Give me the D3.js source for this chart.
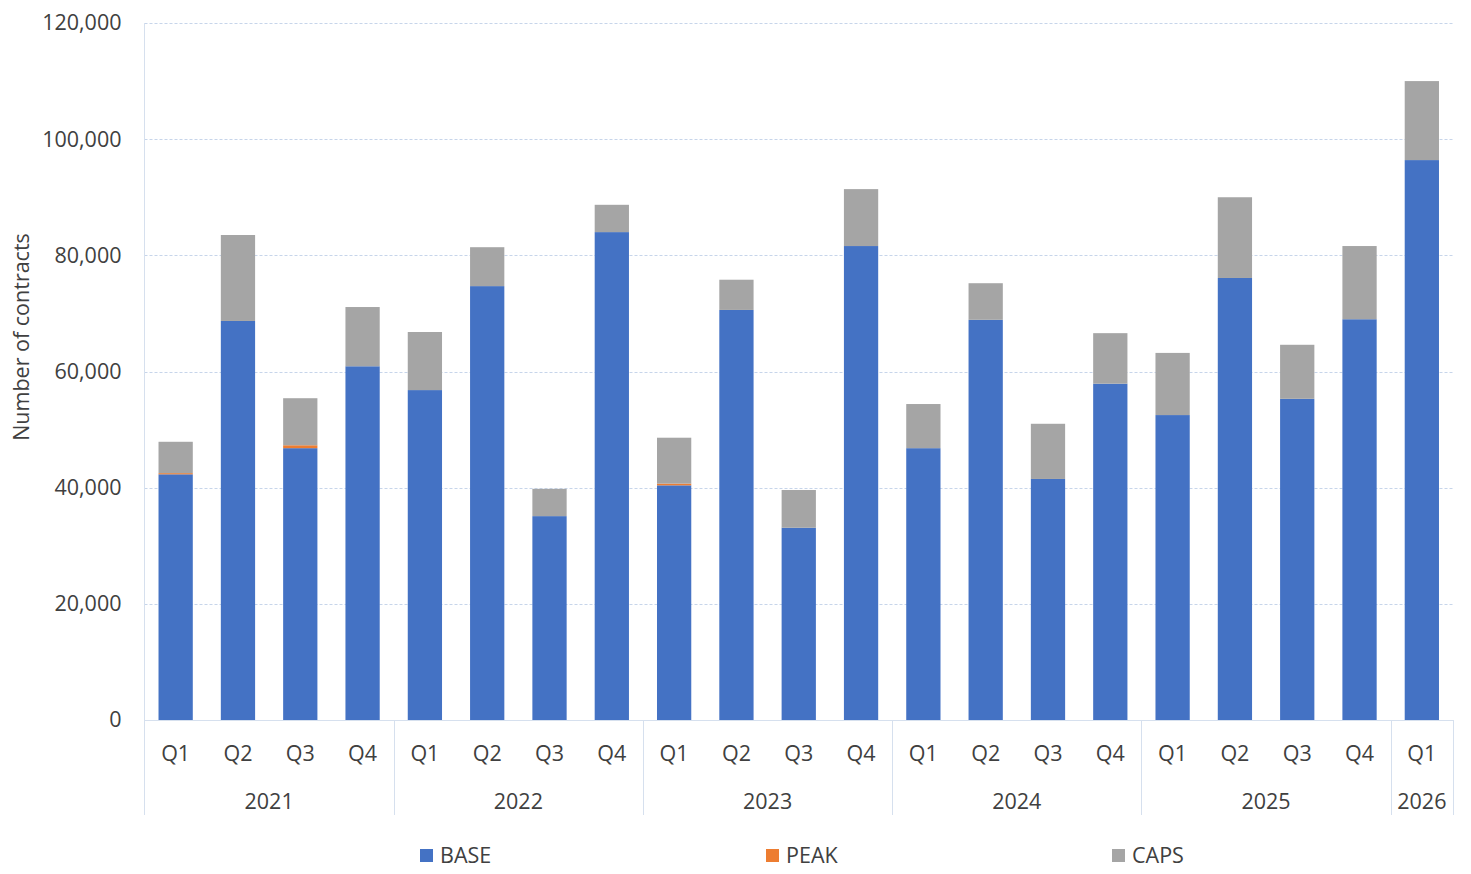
<!DOCTYPE html>
<html>
<head>
<meta charset="utf-8">
<script src="https://cdn.jsdelivr.net/npm/d3@7"></script>
<style>
  body { margin: 0; background: #fff; }
  text { font-family: "Open Sans", "Noto Sans", sans-serif; fill: #404040; }
</style>
</head>
<body>
<svg id="chart"></svg>
<script>
// data
var years = ["2021", "2022", "2023", "2024", "2025", "2026"];
var quarters = ["Q1", "Q2", "Q3", "Q4", "Q1", "Q2", "Q3", "Q4", "Q1", "Q2", "Q3", "Q4",
                "Q1", "Q2", "Q3", "Q4", "Q1", "Q2", "Q3", "Q4", "Q1"];
var quarterYear = [0,0,0,0, 1,1,1,1, 2,2,2,2, 3,3,3,3, 4,4,4,4, 5];
var baseValues = [42300, 68700, 46800, 60900, 56800, 74700, 35100, 84000, 40400, 70600, 33100, 81600,
                  46800, 68900, 41500, 57900, 52500, 76100, 55300, 69000, 96400];
var peakValues = [200, 0, 500, 0, 0, 0, 0, 0, 300, 0, 0, 0,
                  0, 0, 0, 0, 0, 0, 0, 0, 0];
var capsValues = [5400, 14800, 8100, 10200, 10000, 6700, 4700, 4700, 7900, 5200, 6500, 9800,
                  7600, 6300, 9500, 8700, 10700, 13900, 9300, 12600, 13600];
var yTicks = [0, 20000, 40000, 60000, 80000, 100000, 120000];
var seriesNames = ["BASE", "PEAK", "CAPS"];
var seriesColors = ["#4472C4", "#ED7D31", "#A5A5A5"];

var screen = { width: 1471, height: 874 };
var margins = { top: 23, left: 144.5, right: 18, bottom: 154 };
var fontSize = 21.5;

var plotW = screen.width - margins.left - margins.right;
var plotH = screen.height - margins.top - margins.bottom;

var svg = d3.select("#chart")
  .attr("width", screen.width)
  .attr("height", screen.height);

var rows = quarters.map(function(q, i) {
  return { idx: i, base: baseValues[i], peak: peakValues[i], caps: capsValues[i] };
});

var xScale = d3.scaleBand()
  .domain(d3.range(quarters.length))
  .range([margins.left, margins.left + plotW])
  .paddingInner(0.45)
  .paddingOuter(0.225);

var yScale = d3.scaleLinear()
  .domain([0, 120000])
  .range([margins.top + plotH, margins.top]);

var colorScale = d3.scaleOrdinal()
  .domain(["base", "peak", "caps"])
  .range(seriesColors);

// gridlines
svg.append("g")
  .selectAll("line")
  .data(yTicks.slice(1))
  .enter()
  .append("line")
  .attr("x1", margins.left)
  .attr("x2", margins.left + plotW)
  .attr("y1", function(d) { return Math.round(yScale(d)) + 0.5; })
  .attr("y2", function(d) { return Math.round(yScale(d)) + 0.5; })
  .style("stroke", "#c7d5ea")
  .style("stroke-width", 1)
  .style("stroke-dasharray", "3,2");

// y axis labels
var yAxis = d3.axisLeft(yScale)
  .tickValues(yTicks)
  .tickSize(0)
  .tickPadding(23)
  .tickFormat(d3.format(","));

var yAxisG = svg.append("g")
  .attr("transform", "translate(" + margins.left + ",0)")
  .call(yAxis);
yAxisG.select(".domain").remove();
yAxisG.selectAll("text")
  .attr("font-size", fontSize)
  .style("font-family", "'Open Sans', 'Noto Sans', sans-serif")
  .attr("fill", "#404040");

// stacked bars
var stack = d3.stack().keys(["base", "peak", "caps"]);
var layers = stack(rows);

svg.append("g")
  .selectAll("g")
  .data(layers)
  .enter()
  .append("g")
  .attr("fill", function(d) { return colorScale(d.key); })
  .selectAll("rect")
  .data(function(d) { return d; })
  .enter()
  .append("rect")
  .attr("x", function(d) { return xScale(d.data.idx); })
  .attr("width", xScale.bandwidth())
  .attr("y", function(d) { return yScale(d[1]); })
  .attr("height", function(d) { return yScale(d[0]) - yScale(d[1]); });

// axis lines
var axisColor = "#d6e0ee";
var axisBottom = margins.top + plotH;
svg.append("line")
  .attr("x1", margins.left).attr("x2", margins.left + plotW)
  .attr("y1", axisBottom + 0.5).attr("y2", axisBottom + 0.5)
  .style("stroke", axisColor);

svg.append("line")
  .attr("x1", margins.left).attr("x2", margins.left)
  .attr("y1", margins.top).attr("y2", axisBottom + 95)
  .style("stroke", axisColor);

// quarter labels
svg.append("g")
  .selectAll("text")
  .data(quarters)
  .enter()
  .append("text")
  .attr("x", function(d, i) { return xScale(i) + xScale.bandwidth() / 2; })
  .attr("y", axisBottom + 41)
  .attr("text-anchor", "middle")
  .attr("font-size", fontSize)
  .text(function(d) { return d; });

// year groups
var step = xScale.step();
var yearGroups = years.map(function(y, yi) {
  var idxs = d3.range(quarters.length).filter(function(i) { return quarterYear[i] === yi; });
  return { label: y, start: margins.left + idxs[0] * step, end: margins.left + (idxs[idxs.length - 1] + 1) * step };
});

svg.append("g")
  .selectAll("line")
  .data(yearGroups)
  .enter()
  .append("line")
  .attr("x1", function(d) { return Math.round(d.end) + 0.5; })
  .attr("x2", function(d) { return Math.round(d.end) + 0.5; })
  .attr("y1", axisBottom)
  .attr("y2", axisBottom + 95)
  .style("stroke", axisColor);

svg.append("g")
  .selectAll("text")
  .data(yearGroups)
  .enter()
  .append("text")
  .attr("x", function(d) { return (d.start + d.end) / 2; })
  .attr("y", axisBottom + 89)
  .attr("text-anchor", "middle")
  .attr("font-size", fontSize)
  .text(function(d) { return d.label; });

// y title
svg.append("text")
  .attr("transform", "translate(29,337) rotate(-90)")
  .attr("text-anchor", "middle")
  .attr("font-size", fontSize)
  .text("Number of contracts");

// legend
var legendX = [420, 766, 1112];
var legend = svg.append("g");
var legendItems = legend.selectAll("g")
  .data(seriesNames)
  .enter()
  .append("g")
  .attr("transform", function(d, i) { return "translate(" + legendX[i] + ",849)"; });

legendItems.append("rect")
  .attr("width", 13)
  .attr("height", 13)
  .attr("fill", function(d, i) { return seriesColors[i]; });

legendItems.append("text")
  .attr("x", 20)
  .attr("y", 14)
  .attr("font-size", fontSize)
  .text(function(d) { return d; });
</script>
</body>
</html>
